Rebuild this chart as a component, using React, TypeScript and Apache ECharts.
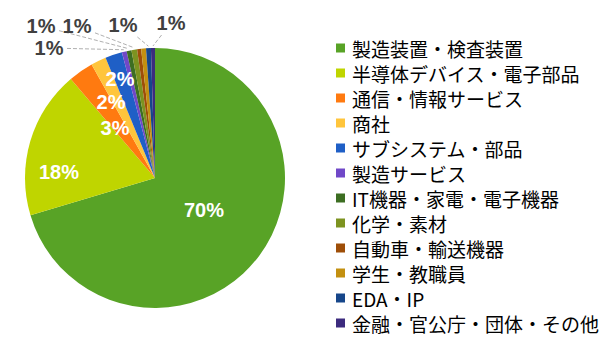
import React, { useEffect, useRef } from "react";
import * as echarts from "echarts";

const categories = [
  "製造装置・検査装置",
  "半導体デバイス・電子部品",
  "通信・情報サービス",
  "商社",
  "サブシステム・部品",
  "製造サービス",
  "IT機器・家電・電子機器",
  "化学・素材",
  "自動車・輸送機器",
  "学生・教職員",
  "EDA・IP",
  "金融・官公庁・団体・その他",
];
const shares = [70.3, 18.4, 3.1, 1.9, 2.1, 0.6, 0.6, 0.7, 0.5, 0.6, 0.6, 0.5];
const colors = [
  "#58A326", "#BFD500", "#FF7A10", "#FFC53C", "#1F5FC6", "#7048C8",
  "#3D6E22", "#7D9320", "#9E4E08", "#C39010", "#16468A", "#3C2B7E",
];
// which slices show their percentage label
const labelShown = [true, true, true, true, true, true, true, true, false, false, true, true];
// which labels sit inside the slice
const labelInside = [true, true, true, true, true, false, false, false, false, false, false, false];

// layout (not data): where each label's centre sits on the page
const labelAnchors: ([number, number] | null)[] = [
  [204, 210], [59, 172], [115, 128], [111, 102], [120, 79],
  [49, 48], [41, 26], [77, 26], null, null, [123, 25], [171, 23],
];
const CX = 155;
const CY = 178;
const R = 130;

export default function App() {
  const ref = useRef<HTMLDivElement>(null);
  useEffect(() => {
    if (!ref.current) return;
    const chart = echarts.init(ref.current, undefined, { renderer: "svg" });
    const total = shares.reduce((a, b) => a + b, 0);
    const midAngles: number[] = [];
    let acc = 0;
    shares.forEach((v) => {
      const a0 = (acc / total) * 360;
      acc += v;
      const a1 = (acc / total) * 360;
      midAngles.push(((a0 + a1) / 2) * (Math.PI / 180));
    });

    const data = categories.map((name, i) => ({
      name,
      value: shares[i],
      itemStyle: { color: colors[i] },
      label: {
        show: labelShown[i],
        position: labelInside[i] ? "inside" : "outside",
        color: labelInside[i] ? "#ffffff" : "#404040",
      },
      labelLine: { show: labelShown[i] && !labelInside[i] },
    }));

    chart.setOption({
      animation: false,
      legend: {
        orient: "vertical",
        left: 336,
        top: 38,
        padding: 0,
        itemWidth: 9,
        itemHeight: 9,
        itemGap: 5,
        icon: "rect",
        selectedMode: false,
        data: categories,
        textStyle: {
          fontFamily: "'Noto Sans CJK JP', sans-serif",
          fontSize: 19,
          lineHeight: 20,
          color: "#000000",
          padding: [0, 0, 0, 2],
        },
      },
      series: [
        {
          type: "pie",
          center: [CX, CY],
          radius: R,
          startAngle: 90,
          clockwise: true,
          avoidLabelOverlap: false,
          itemStyle: { borderWidth: 0 },
          label: {
            fontFamily: "'Liberation Sans', Arial, sans-serif",
            fontWeight: "bold",
            fontSize: 20,
            formatter: (p: any) => Math.round(p.percent) + "%",
          },
          labelLine: {
            length: 10,
            length2: 10,
            lineStyle: { color: "#b0b0b0", type: "dashed", width: 1 },
          },
          labelLayout: (params: any) => {
            const i = params.dataIndex;
            const pos = labelAnchors[i];
            if (!pos) return {};
            const [lx, ly] = pos;
            const out: any = { x: lx, y: ly, align: "center", verticalAlign: "middle" };
            if (!labelInside[i]) {
              const a = midAngles[i];
              const ex = CX + (R + 2) * Math.sin(a);
              const ey = CY - (R + 2) * Math.cos(a);
              const dx = ex - lx;
              const dy = ey - ly;
              const s = Math.min(
                dx !== 0 ? 18 / Math.abs(dx) : Infinity,
                dy !== 0 ? 12 / Math.abs(dy) : Infinity
              );
              out.labelLinePoints = [
                [lx + dx * s, ly + dy * s],
                [lx + dx * s, ly + dy * s],
                [ex, ey],
              ];
            }
            return out;
          },
          data,
        },
      ],
    });
    return () => chart.dispose();
  }, []);
  return (
    <div
      ref={ref}
      style={{ position: "absolute", left: 0, top: 0, width: 600, height: 350, background: "#fff" }}
    />
  );
}
